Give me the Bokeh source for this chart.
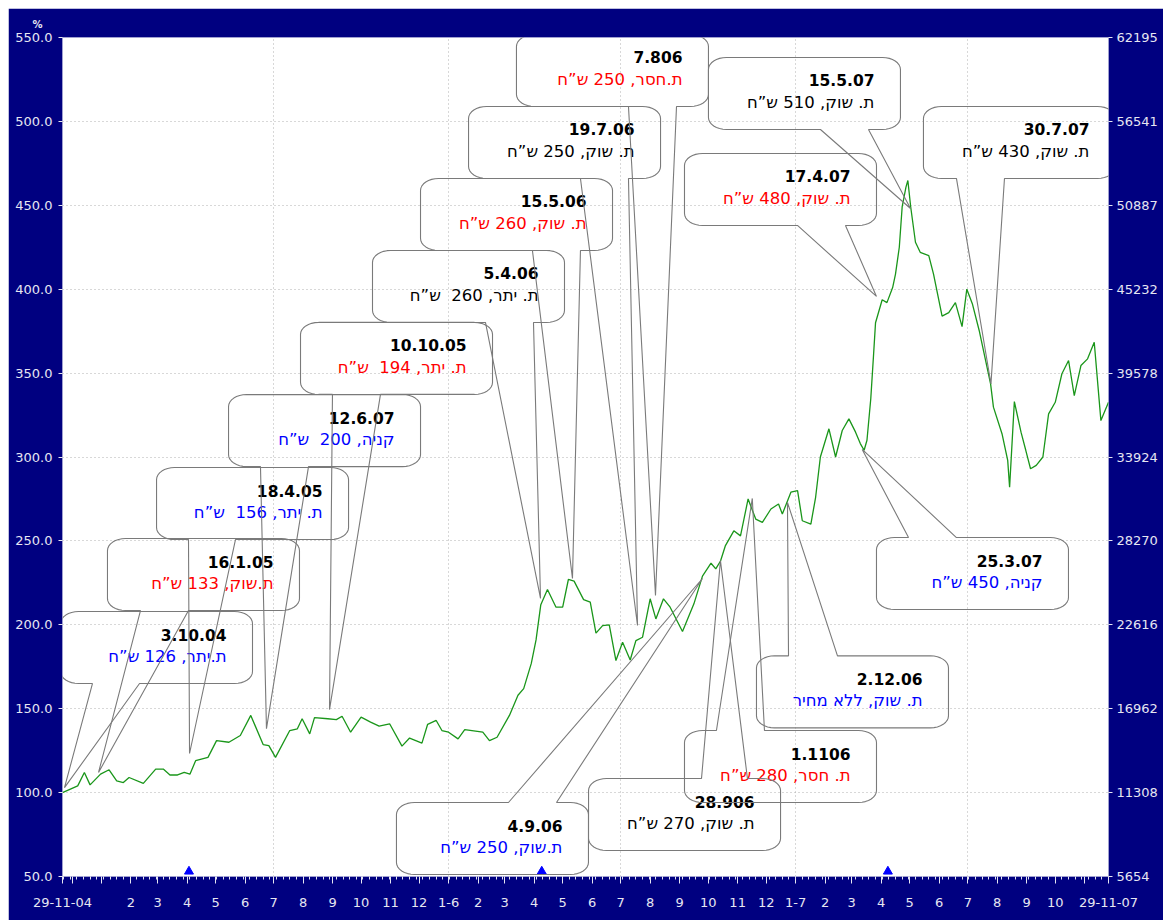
import datetime as dt
from math import pi, cos, sin

from bokeh.plotting import figure
from bokeh.models import (Range1d, FixedTicker, LinearAxis, PrintfTickFormatter, Title,
                          PolyAnnotation, ColumnDataSource)
from bokeh.core.properties import value
from bokeh.embed import file_html
from bokeh.resources import INLINE

BASE = dt.date(2004, 11, 29)


def day(y, m, d=1):
    return (dt.date(y, m, d) - BASE).days


# ---------------- data ----------------
# day offsets from 29-11-04 and index values (%)
days = [-8, 8, 15, 21, 32, 41, 49, 56, 62, 77, 90, 98, 105, 113, 120, 126, 132, 145, 154, 167,
        179, 190, 203, 209, 216, 231, 239, 244, 252, 257, 271, 280, 286, 295, 306, 316, 325, 336,
        349, 357, 370, 376, 385, 391, 398, 408, 415, 434, 441, 449, 462, 471, 477, 485, 490, 495,
        502, 511, 518, 524, 530, 540, 547, 553, 560, 567, 574, 581, 589, 595, 602, 610, 616, 624,
        631, 644, 656, 665, 674, 679, 684, 689, 698, 705, 713, 721, 728, 737, 745, 749, 758, 765,
        770, 779, 784, 789, 798, 805, 812, 819, 826, 831, 835, 838, 842, 845, 847, 854, 859, 865,
        868, 872, 875, 879, 881, 884, 889, 894, 903, 908, 917, 924, 931, 938, 943, 949, 956, 968,
        971, 980, 986, 988, 993, 1000, 1005, 1010, 1016, 1023, 1029, 1036, 1043, 1050, 1056, 1063,
        1070, 1077, 1084, 1092]
vals = [100, 104, 112, 104.6, 111, 113.6, 107, 106, 109, 105.5, 114, 114, 110.5, 110.5, 112, 111,
        119, 121, 131, 130, 134, 146, 128.6, 128, 121, 137, 138, 144, 135, 144.7, 144, 143.5, 145.5,
        136, 145, 142, 139.6, 141, 127.7, 132.5, 129.5, 140.7, 143, 137, 136, 132, 137.5, 136, 131,
        133, 146, 158, 162, 177, 191, 212, 221, 210.5, 210.5, 227, 226, 215, 213.5, 195, 199.5, 200,
        178.7, 189.6, 179, 190.6, 192.6, 215.5, 203.5, 215.5, 210.5, 196, 212.5, 229, 236.7, 233.3,
        238, 247, 256, 253, 275, 263, 261, 269, 272, 266, 279, 280, 262, 260, 276, 300, 316.8, 300,
        315.8, 322.7, 314.8, 308, 304, 310, 334.7, 361.5, 380, 393.7, 392, 401, 409, 425, 449, 460.8,
        464.8, 449, 428, 422, 420, 409, 384, 386, 392, 377.7, 400, 391, 375.4, 343.6, 329.7, 313.9,
        298, 282, 333, 314.8, 304, 293, 295, 300, 325.7, 332.6, 349.6, 357.5, 336.6, 354.5, 358.5,
        368.4, 321.7, 332.6]

left_ticks = [50, 100, 150, 200, 250, 300, 350, 400, 450, 500, 550]
right_labels = ["5654", "11308", "16962", "22616", "28270", "33924", "39578", "45232",
                "50887", "56541", "62195"]

month_labels = ["", "", "2", "3", "4", "5", "6", "7", "8", "9", "10", "11", "12",
                "1-6", "2", "3", "4", "5", "6", "7", "8", "9", "10", "11", "12",
                "1-7", "2", "3", "4", "5", "6", "7", "8", "9", "10", ""]
start_label = "29-11-04"
end_label = "29-11-07"

marker_days = [125, 496, 860]

cb_dates = ["3.10.04", "16.1.05", "18.4.05", "12.6.07", "10.10.05", "5.4.06", "15.5.06",
            "19.7.06", "7.806", "17.4.07", "15.5.07", "30.7.07", "25.3.07", "2.12.06",
            "1.1106", "28.906", "4.9.06"]
cb_notes = ["ת.יתר, 126 ש”ח", "ת.שוק, 133 ש”ח", "ת. יתר, 156\u00a0 ש”ח", "קניה, 200\u00a0 ש”ח",
            "ת. יתר, 194\u00a0 ש”ח", "ת. יתר, 260\u00a0 ש”ח", "ת. שוק, 260 ש”ח", "ת. שוק, 250 ש”ח",
            "ת.חסר, 250 ש”ח", "ת. שוק, 480 ש”ח", "ת. שוק, 510 ש”ח", "ת. שוק, 430 ש”ח",
            "קניה, 450 ש”ח", "ת. שוק, ללא מחיר", "ת. חסר, 280 ש”ח", "ת. שוק, 270 ש”ח",
            "ת.שוק, 250 ש”ח"]

# ---------------- layout / styles ----------------
BLUE, RED, BLACK = "#0000ff", "#ff0000", "#000000"
cb_colors = [BLUE, RED, BLUE, BLUE, RED, BLACK, RED, BLACK, RED, RED, BLACK, BLACK,
             BLUE, BLUE, RED, BLACK, BLUE]
# box left (day), box top (value), tail start/end (day), side, apex (day, value)
cb_geom = [
    (-10.1, 207.9, 23.5, 73.0, "bottom", -5.9, 103.0),
    (39.3, 251.4, 74.0, 124.5, "bottom", 29.9, 112.0),
    (90.9, 293.7, 124.5, 173.9, "bottom", 125.6, 123.3),
    (166.6, 337.2, 200.2, 250.7, "bottom", 206.5, 138.1),
    (242.3, 380.2, 275.9, 326.4, "bottom", 272.8, 149.5),
    (318.0, 423.1, 436.8, 487.3, "bottom", 494.7, 215.7),
    (368.5, 466.0, 486.2, 536.7, "bottom", 528.3, 227.6),
    (419.0, 508.9, 536.7, 587.2, "bottom", 596.7, 199.6),
    (469.4, 551.8, 587.2, 637.7, "bottom", 615.6, 217.5),
    (646.1, 480.9, 764.9, 815.4, "bottom", 848.0, 395.7),
    (671.3, 538.1, 789.1, 839.6, "bottom", 883.8, 448.1),
    (897.4, 508.9, 932.1, 982.6, "bottom", 968.4, 343.6),
    (848.0, 252.0, 881.7, 932.1, "top", 833.0, 304.5),
    (721.8, 181.5, 755.5, 807.0, "top", 754.4, 272.9),
    (646.1, 137.0, 679.7, 730.2, "top", 717.4, 275.3),
    (545.2, 108.4, 664.0, 712.3, "top", 683.9, 238.3),
    (343.2, 94.1, 461.0, 511.5, "top", 665.0, 227.6),
]

FW, FH = 1046, 839
X0, X1 = -8, 1092
Y0, Y1 = 50, 550
KX = (X1 - X0) / FW
KY = (Y1 - Y0) / FH
NAVY = "#000080"
LBL = "#e6e6f2"
FONT = "DejaVu Sans"

p = figure(frame_width=FW, frame_height=FH, x_range=Range1d(X0, X1), y_range=Range1d(Y0, Y1),
           output_backend="svg", toolbar_location=None,
           min_border_left=54, min_border_right=55, min_border_top=29, min_border_bottom=44,
           background_fill_color="white", border_fill_color=NAVY,
           outline_line_color="#a0a0d0")
p.margin = (8, 0, 0, 8)

# "%" caption over the left axis
p.add_layout(Title(text="%", align="left", offset=-30, text_color=LBL, text_font=FONT,
                   text_font_size="10px", text_font_style="bold", standoff=15), "above")

# grids
half_years = [day(2005, 7), day(2006, 1), day(2006, 7), day(2007, 1), day(2007, 7)]
p.xgrid[0].ticker = FixedTicker(ticks=half_years)
p.ygrid[0].ticker = FixedTicker(ticks=left_ticks)
for g in (p.xgrid[0], p.ygrid[0]):
    g.grid_line_color = "#b0b0b0"
    g.grid_line_dash = "1 3"
    g.grid_line_width = 1

# x axis
months = []
y, m = 2004, 12
while (y, m) <= (2007, 11):
    months.append(day(y, m))
    m += 1
    if m > 12:
        y, m = y + 1, 1
overrides = {d: lab for d, lab in zip(months, month_labels)}
overrides[X0] = start_label
overrides[X1] = end_label
xa = p.xaxis[0]
xa.ticker = FixedTicker(ticks=[X0] + months + [X1], minor_ticks=list(range(-7, X1, 7)))
xa.major_label_overrides = overrides
xa.axis_line_color = None
xa.major_tick_line_color = LBL
xa.minor_tick_line_color = LBL
xa.major_tick_out = 7
xa.major_tick_in = 0
xa.minor_tick_out = 3
xa.minor_tick_in = 0
xa.major_label_standoff = 14
xa.major_label_text_color = LBL
xa.major_label_text_font = FONT
xa.major_label_text_font_size = "13px"

# left y axis
ya = p.yaxis[0]
ya.ticker = FixedTicker(ticks=left_ticks)
ya.formatter = PrintfTickFormatter(format="%.1f")
ya.axis_line_color = None
ya.major_tick_line_color = LBL
ya.major_tick_out = 4
ya.major_tick_in = 0
ya.minor_tick_out = 0
ya.minor_tick_in = 0
ya.major_label_standoff = 6
ya.major_label_text_color = LBL
ya.major_label_text_font = FONT
ya.major_label_text_font_size = "13px"

# right y axis
ra = LinearAxis(ticker=FixedTicker(ticks=left_ticks),
                major_label_overrides={t: lab for t, lab in zip(left_ticks, right_labels)})
ra.axis_line_color = None
ra.major_tick_line_color = LBL
ra.major_tick_out = 4
ra.major_tick_in = 0
ra.minor_tick_out = 0
ra.minor_tick_in = 0
ra.major_label_standoff = 4
ra.major_label_text_color = LBL
ra.major_label_text_font = FONT
ra.major_label_text_font_size = "13px"
p.add_layout(ra, "right")

# series line
p.line(days, vals, line_color="#1a961a", line_width=1.3)

# markers at the bottom
p.scatter(marker_days, [Y0 + 3] * len(marker_days), marker="triangle", size=9,
          fill_color="#0000ff", line_color="#0000ff")

# callouts
W_PX, H_PX, RX, RY = 192, 72, 18, 12


def bubble(left, top, t1, t2, side, ax, ay):
    def arc(cx, cy, a0, a1, n=9):
        out = []
        for i in range(n):
            a = a0 + (a1 - a0) * i / (n - 1)
            out.append((cx + RX * cos(a), cy + RY * sin(a)))
        return out
    d1 = (t1 - left) / KX
    d2 = (t2 - left) / KX
    apex = ((ax - left) / KX, (top - ay) / KY)
    pts = arc(RX, RY, pi, 1.5 * pi)
    if side == "top":
        pts += [(d1, 0), apex, (d2, 0)]
    pts += arc(W_PX - RX, RY, 1.5 * pi, 2 * pi)
    pts += arc(W_PX - RX, H_PX - RY, 0, 0.5 * pi)
    if side == "bottom":
        pts += [(d2, H_PX), apex, (d1, H_PX)]
    pts += arc(RX, H_PX - RY, 0.5 * pi, pi)
    return [left + x * KX for x, _ in pts], [top - yy * KY for _, yy in pts]


tx, ty_date, ty_note = [], [], []
for (left, top, t1, t2, side, ax, ay) in cb_geom:
    xs, ys = bubble(left, top, t1, t2, side, ax, ay)
    p.add_layout(PolyAnnotation(xs=xs, ys=ys, fill_color=None, fill_alpha=0,
                                line_color="#7a7a7a", line_alpha=1.0, line_width=1.1))
    tx.append(left + 166 * KX)
    ty_date.append(top - 23 * KY)
    ty_note.append(top - 45 * KY)

src_d = ColumnDataSource(dict(x=tx, y=ty_date, t=cb_dates))
src_n = ColumnDataSource(dict(x=tx, y=ty_note, t=cb_notes, c=cb_colors))
p.text(x="x", y="y", text="t", source=src_d, text_color="#000000", text_align="right",
       text_baseline="middle", text_font=value(FONT), text_font_size="15.5px",
       text_font_style="bold")
p.text(x="x", y="y", text="t", source=src_n, text_color="c", text_align="right",
       text_baseline="middle", text_font=value(FONT), text_font_size="16.5px")

open("out.html", "w").write(file_html(p, INLINE))
